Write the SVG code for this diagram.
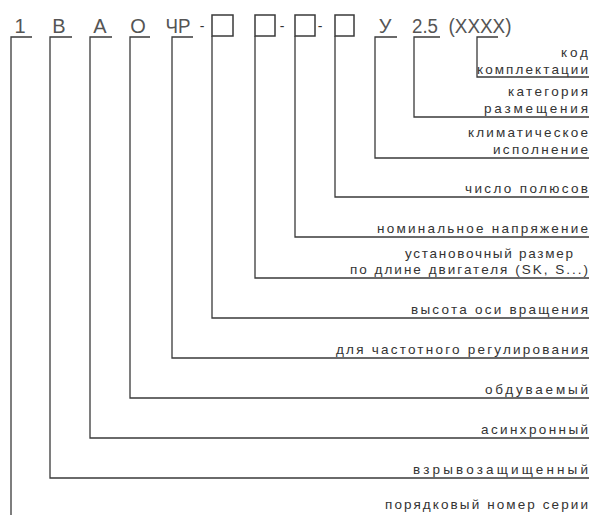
<svg xmlns="http://www.w3.org/2000/svg" width="591" height="515" viewBox="0 0 591 515">
<style>
.top{font-family:"Liberation Sans",Arial,sans-serif;font-size:20px;fill:#555;text-anchor:middle}
.dash{font-family:"Liberation Sans",Arial,sans-serif;font-size:14px;fill:#333;text-anchor:middle}
.lbl{font-family:"Liberation Sans",Arial,sans-serif;font-size:13.5px;fill:#333}
.ln{fill:none;stroke:#3a3a3a;stroke-width:1.3}
.box{fill:none;stroke:#3a3a3a;stroke-width:1.5}
</style>
<rect width="591" height="515" fill="#fff"/>
<g id="code">
<text class="top" x="20" y="33">1</text>
<text class="top" x="59" y="33">В</text>
<text class="top" x="100" y="33">А</text>
<text class="top" x="138" y="33">О</text>
<text class="top" x="178" y="33" textLength="25" lengthAdjust="spacingAndGlyphs">ЧР</text>
<text class="dash" x="202" y="31">-</text>
<rect class="box" x="212" y="15" width="21" height="21"/>
<rect class="box" x="255" y="15" width="20" height="21"/>
<text class="dash" x="282" y="31">-</text>
<rect class="box" x="295" y="15" width="20" height="21"/>
<text class="dash" x="320" y="31">-</text>
<rect class="box" x="335" y="15" width="19" height="21"/>
<text class="top" x="385" y="33">У</text>
<text class="top" x="425" y="33" textLength="26" lengthAdjust="spacingAndGlyphs">2.5</text>
<text class="top" x="480" y="33" textLength="63" lengthAdjust="spacingAndGlyphs">(XXXX)</text>
</g>
<g id="connectors">
<path class="ln" d="M32,37 H11 V515"/>
<path class="ln" d="M72,37 H50 V478 H589"/>
<path class="ln" d="M112,37 H90 V438 H589"/>
<path class="ln" d="M150,37 H130 V398 H589"/>
<path class="ln" d="M193,37 H172 V358 H589"/>
<path class="ln" d="M212,36 V318 H589"/>
<path class="ln" d="M255,36 V278 H589"/>
<path class="ln" d="M295,36 V237 H589"/>
<path class="ln" d="M335,36 V197 H589"/>
<path class="ln" d="M397,37 H375 V158 H589"/>
<path class="ln" d="M440,37 H414 V117 H589"/>
<path class="ln" d="M498,37 H477 V77 H589"/>
</g>
<g id="labels">
<text class="lbl" x="561" y="57" textLength="27" lengthAdjust="spacing">код</text>
<text class="lbl" x="477" y="74" textLength="111" lengthAdjust="spacing">комплектации</text>
<text class="lbl" x="508" y="96" textLength="80" lengthAdjust="spacing">категория</text>
<text class="lbl" x="484" y="113" textLength="104" lengthAdjust="spacing">размещения</text>
<text class="lbl" x="468" y="137" textLength="120" lengthAdjust="spacing">климатическое</text>
<text class="lbl" x="493" y="154" textLength="95" lengthAdjust="spacing">исполнение</text>
<text class="lbl" x="465" y="193" textLength="123" lengthAdjust="spacing">число полюсов</text>
<text class="lbl" x="377" y="233" textLength="211" lengthAdjust="spacing">номинальное напряжение</text>
<text class="lbl" x="405" y="258" textLength="168" lengthAdjust="spacing">установочный размер</text>
<text class="lbl" x="350" y="274" textLength="238" lengthAdjust="spacing">по длине двигателя (SK, S...)</text>
<text class="lbl" x="411" y="314" textLength="177" lengthAdjust="spacing">высота оси вращения</text>
<text class="lbl" x="336" y="354" textLength="252" lengthAdjust="spacing">для частотного регулирования</text>
<text class="lbl" x="485" y="394" textLength="103" lengthAdjust="spacing">обдуваемый</text>
<text class="lbl" x="481" y="434" textLength="107" lengthAdjust="spacing">асинхронный</text>
<text class="lbl" x="413" y="474" textLength="175" lengthAdjust="spacing">взрывозащищенный</text>
<text class="lbl" x="385" y="509" textLength="203" lengthAdjust="spacing">порядковый номер серии</text>
</g>
</svg>
